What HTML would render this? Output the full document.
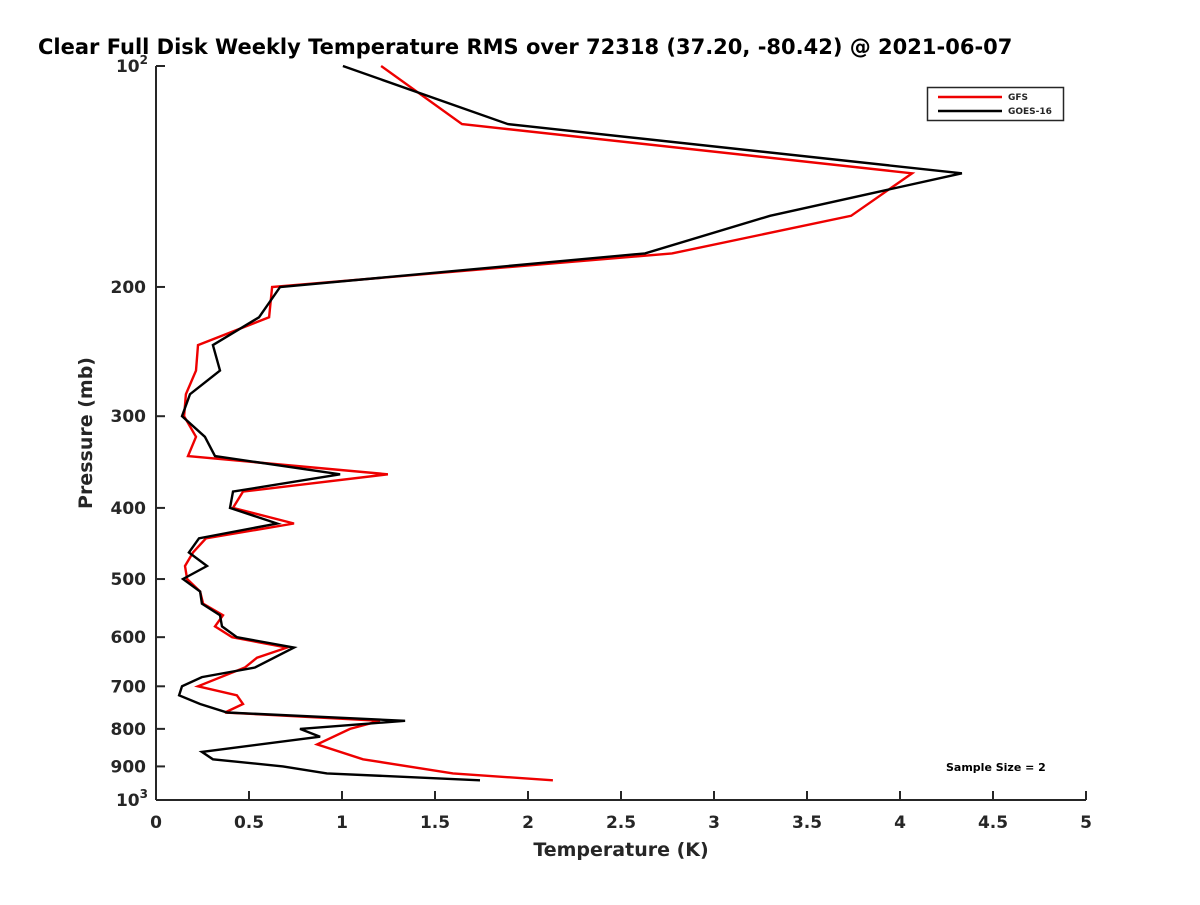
<!DOCTYPE html>
<html><head><meta charset="utf-8"><style>
body{margin:0;background:#fff;}
svg text{font-family:"DejaVu Sans","Liberation Sans",sans-serif;font-weight:bold;fill:#262626;}
</style></head><body>
<svg id="chart" width="1200" height="900" viewBox="0 0 1200 900" xmlns="http://www.w3.org/2000/svg">
<rect width="1200" height="900" fill="#fff"/>
<text x="38" y="54" font-size="21" style="fill:#000">Clear Full Disk Weekly Temperature RMS over 72318 (37.20, -80.42) @ 2021-06-07</text>
<g id="axes"></g>
<g id="series"></g>
<text x="621" y="856" font-size="19" text-anchor="middle">Temperature (K)</text>
<text transform="translate(92,433) rotate(-90)" font-size="19" text-anchor="middle">Pressure (mb)</text>
<g>
<rect x="927.5" y="87.5" width="136" height="33" fill="#fff" stroke="#262626" stroke-width="1.5"/>
<line x1="938" y1="97" x2="1002" y2="97" stroke="#e00" stroke-width="2.5"/>
<text x="1008" y="100" font-size="9">GFS</text>
<line x1="938" y1="111" x2="1002" y2="111" stroke="#000" stroke-width="2.5"/>
<text x="1008" y="114" font-size="9">GOES-16</text>
</g>
<text x="946" y="771" font-size="11" style="fill:#000">Sample Size = 2</text>
</svg>
<script>
const gfsPressure=[100,120,140,160,180,200,220,240,260,280,300,320,340,360,380,400,420,440,460,480,500,520,540,560,580,600,620,640,660,700,720,740,760,780,800,840,880,920,940];
const gfsTemp=[1.21,1.645,4.065,3.737,2.774,0.624,0.608,0.226,0.215,0.161,0.151,0.215,0.172,1.247,0.468,0.414,0.742,0.269,0.199,0.156,0.167,0.237,0.253,0.36,0.317,0.409,0.704,0.543,0.478,0.226,0.435,0.468,0.371,1.204,1.043,0.866,1.113,1.597,2.134];
const goesPressure=[100,120,140,160,180,200,220,240,260,280,300,320,340,360,380,400,420,440,460,480,500,520,540,560,580,600,620,660,680,700,720,740,760,780,800,820,860,880,900,920,940];
const goesTemp=[1.005,1.892,4.333,3.301,2.629,0.667,0.554,0.306,0.344,0.183,0.14,0.263,0.317,0.99,0.414,0.398,0.651,0.231,0.177,0.274,0.145,0.237,0.247,0.344,0.355,0.435,0.742,0.532,0.247,0.14,0.124,0.237,0.382,1.339,0.774,0.882,0.247,0.306,0.683,0.919,1.742];
const xTicks=[0,0.5,1,1.5,2,2.5,3,3.5,4,4.5,5];
const xTickLabels=["0","0.5","1","1.5","2","2.5","3","3.5","4","4.5","5"];
const yTicks=[100,200,300,400,500,600,700,800,900,1000];
const yTickLabels=["10^2","200","300","400","500","600","700","800","900","10^3"];

const L=156,R=1086,T=66,B=800;
const xScale=v=>L+(v-0)/(5-0)*(R-L);
const yScale=p=>T+(Math.log10(p)-2)/(3-2)*(B-T);
const NS="http://www.w3.org/2000/svg";
function mk(tag,attrs,parent){const e=document.createElementNS(NS,tag);for(const k in attrs)e.setAttribute(k,attrs[k]);parent.appendChild(e);return e;}
const axes=document.getElementById('axes');
const xa=mk('line',{x1:L,y1:B,x2:R,y2:B,stroke:'#262626','stroke-width':2},axes);


const ya=mk('line',{x1:L,y1:T,x2:L,y2:B,stroke:'#262626','stroke-width':2},axes);


xTicks.forEach((v,i)=>{
  const x=xScale(v);
  const t=mk('line',{x1:x,y1:B,x2:x,y2:B-9,stroke:'#262626','stroke-width':2},axes);
  
  
  const tx=mk('text',{x:x,y:B+28,'font-size':17,'text-anchor':'middle'},axes);
  tx.textContent=xTickLabels[i];
  
  
});
yTicks.forEach((p,i)=>{
  const y=yScale(p);
  const t=mk('line',{x1:L,y1:y,x2:L+9,y2:y,stroke:'#262626','stroke-width':2},axes);
  
  
  const lab=yTickLabels[i];
  const tx=mk('text',{x:L-10,y:y+6,'font-size':17,'text-anchor':'end'},axes);
  
  
  if(lab.indexOf('^')>=0){
    const parts=lab.split('^');
    const a=mk('tspan',{},tx);a.textContent=parts[0];
    const b=mk('tspan',{dy:-8,'font-size':12},tx);b.textContent=parts[1];
    tx.setAttribute('x',L-8);
  } else tx.textContent=lab;
});
const sg=document.getElementById('series');
function line(ps,ts,color,name){
  const pts=ps.map((p,i)=>xScale(ts[i]).toFixed(1)+','+yScale(p).toFixed(1)).join(' ');
  const pl=mk('polyline',{points:pts,fill:'none',stroke:color,'stroke-width':2.4,'stroke-linejoin':'miter'},sg);
  
  
}
line(gfsPressure,gfsTemp,'#e00','gfs-line');
line(goesPressure,goesTemp,'#000','goes16-line');
</script>
</body></html>
